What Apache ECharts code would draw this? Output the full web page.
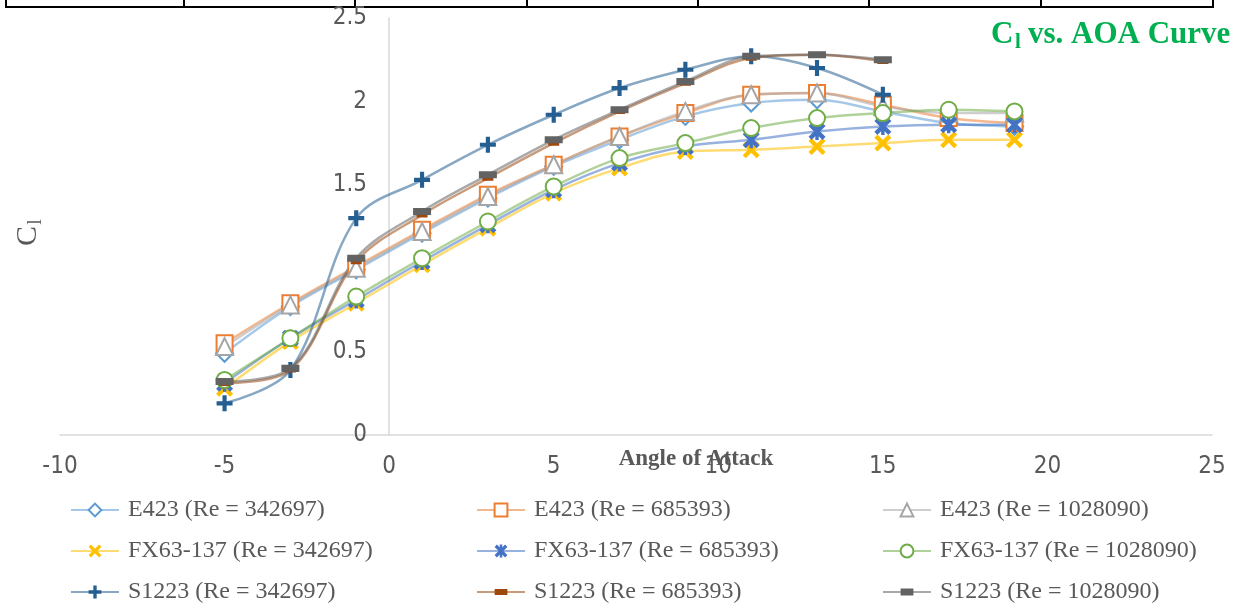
<!DOCTYPE html>
<html>
<head>
<meta charset="utf-8">
<script src="https://cdn.jsdelivr.net/npm/echarts@6/dist/echarts.min.js"></script>
<style>
  html, body { margin: 0; padding: 0; background: #fff; }
  #chart { width: 1239px; height: 604px; }
</style>
</head>
<body>
<div id="chart"></div>
<script>
// ---- data ----
const aoa = [-5, -3, -1, 1, 3, 5, 7, 9, 11, 13, 15, 17, 19];
const aoaS1223 = [-5, -3, -1, 1, 3, 5, 7, 9, 11, 13, 15];

const e423_342697  = [0.49, 0.77, 0.99, 1.21, 1.42, 1.61, 1.77, 1.91, 1.99, 2.01, 1.94, 1.87, 1.85];
const e423_685393  = [0.55, 0.79, 1.01, 1.23, 1.44, 1.62, 1.79, 1.93, 2.04, 2.05, 1.98, 1.90, 1.87];
const e423_1028090 = [0.53, 0.78, 1.00, 1.22, 1.43, 1.62, 1.79, 1.94, 2.04, 2.05, 1.97, 1.93, 1.93];
const fx_342697    = [0.28, 0.56, 0.79, 1.02, 1.24, 1.45, 1.60, 1.70, 1.71, 1.73, 1.75, 1.77, 1.77];
const fx_685393    = [0.31, 0.58, 0.81, 1.04, 1.26, 1.47, 1.63, 1.73, 1.77, 1.82, 1.85, 1.86, 1.86];
const fx_1028090   = [0.33, 0.58, 0.83, 1.06, 1.28, 1.49, 1.66, 1.75, 1.84, 1.90, 1.93, 1.95, 1.94];
const s1223_342697 = [0.19, 0.39, 1.30, 1.53, 1.74, 1.92, 2.08, 2.19, 2.27, 2.20, 2.04];
const s1223_685393 = [0.31, 0.39, 1.04, 1.32, 1.54, 1.75, 1.94, 2.11, 2.26, 2.28, 2.24];
const s1223_1028090= [0.32, 0.40, 1.06, 1.34, 1.56, 1.77, 1.95, 2.12, 2.27, 2.28, 2.25];

const seriesNames = [
  'E423 (Re = 342697)', 'E423 (Re = 685393)', 'E423 (Re = 1028090)',
  'FX63-137 (Re = 342697)', 'FX63-137 (Re = 685393)', 'FX63-137 (Re = 1028090)',
  'S1223 (Re = 342697)', 'S1223 (Re = 685393)', 'S1223 (Re = 1028090)'
];
const xTicks = { min: -10, max: 25, step: 5 };
const yTicks = { min: 0, max: 2.5, step: 0.5 };

// ---- styling ----
const colors = ['#5B9BD5', '#ED7D31', '#A5A5A5', '#FFC000', '#4472C4', '#70AD47', '#255E91', '#9E480E', '#636363'];
const SYM_PLUS = 'path://M3.7,0H6.3V3.7H10V6.3H6.3V10H3.7V6.3H0V3.7H3.7Z';
const SYM_X = 'path://M0,1.8L1.8,0L5,3.2L8.2,0L10,1.8L6.8,5L10,8.2L8.2,10L5,6.8L1.8,10L0,8.2L3.2,5Z';
const SYM_STAR = 'path://M0,1.8L1.8,0L5,3.2L8.2,0L10,1.8L6.8,5L10,8.2L8.2,10L5,6.8L1.8,10L0,8.2L3.2,5Z M4,0H6V10H4Z';
const SYM_DASH_L = 'path://M0,0h0.02v0.02h-0.02Z M0,3H18V10H0Z M0,12.98h0.02v0.02h-0.02Z';
const SYM_DASH_S = 'path://M0,0h0.02v0.02h-0.02Z M0,2.6H10V7.4H0Z M0,9.98h0.02v0.02h-0.02Z';

const symbols = ['emptyDiamond', 'emptyRect', 'emptyTriangle', SYM_X, SYM_STAR, 'emptyCircle', SYM_PLUS, SYM_DASH_S, SYM_DASH_L];
const symbolSizes = [17, 16, 17, 17, 17, 16, 16, [11, 11], [18, 13]];
const hollow = [true, true, true, false, false, true, false, false, false];

const xs = [aoa, aoa, aoa, aoa, aoa, aoa, aoaS1223, aoaS1223, aoaS1223];
const ys = [e423_342697, e423_685393, e423_1028090, fx_342697, fx_685393, fx_1028090, s1223_342697, s1223_685393, s1223_1028090];

const series = seriesNames.map((name, i) => ({
  name: name,
  type: 'line',
  smooth: 0.35,
  data: xs[i].map((x, k) => [x, ys[i][k]]),
  symbol: symbols[i],
  symbolSize: symbolSizes[i],
  showAllSymbol: true,
  color: colors[i],
  lineStyle: { color: colors[i], width: 2.5, opacity: 0.55 },
  itemStyle: hollow[i]
    ? { color: colors[i], borderColor: colors[i], borderWidth: 3 }
    : { color: colors[i], borderWidth: 0 },
  emphasis: { disabled: true },
  animation: false
}));

const labelFont = '"Liberation Sans Narrow", "DejaVu Sans Condensed", "Liberation Sans", sans-serif';
const serif = '"Liberation Serif", "Times New Roman", serif';

const legendCommon = {
  orient: 'vertical',
  top: 498,
  height: 140,
  padding: 0,
  itemWidth: 48,
  itemHeight: 16,
  itemGap: 17,
  textStyle: { fontFamily: serif, fontSize: 24, color: '#595959', lineHeight: 24, padding: [0, 0, 0, 4] },
  selectedMode: false
};

const option = {
  backgroundColor: '#ffffff',
  animation: false,
  grid: { left: 60, right: 27, top: 18, bottom: 169, containLabel: false },
  xAxis: {
    type: 'value', min: xTicks.min, max: xTicks.max, interval: xTicks.step,
    axisLine: { show: true, onZero: false, lineStyle: { color: '#D9D9D9', width: 1.5 } },
    axisTick: { show: false },
    splitLine: { show: false },
    axisLabel: { color: '#595959', fontFamily: labelFont, fontSize: 24, margin: 20 }
  },
  yAxis: {
    type: 'value', min: yTicks.min, max: yTicks.max, interval: yTicks.step,
    position: 'left',
    offset: -329,
    axisLine: { show: true, onZero: false, lineStyle: { color: '#D9D9D9', width: 1.5 } },
    axisTick: { show: false },
    splitLine: { show: false },
    axisLabel: { color: '#595959', fontFamily: labelFont, fontSize: 24, margin: 22 }
  },
  legend: [
    Object.assign({}, legendCommon, { left: 70, data: [seriesNames[0], seriesNames[3], seriesNames[6]] }),
    Object.assign({}, legendCommon, { left: 476, data: [seriesNames[1], seriesNames[4], seriesNames[7]] }),
    Object.assign({}, legendCommon, { left: 882, data: [seriesNames[2], seriesNames[5], seriesNames[8]] })
  ],
  graphic: [
    // top border remnant
    { type: 'line', shape: { x1: 5, y1: 7, x2: 1214, y2: 7 }, style: { stroke: '#000', lineWidth: 2 } },
    ...[6, 184, 355, 527, 698, 869, 1041, 1213].map(x => ({
      type: 'line', shape: { x1: x, y1: 0, x2: x, y2: 7 }, style: { stroke: '#000', lineWidth: 2 }
    })),
    // title
    { type: 'text', left: 991, top: 19, style: { text: 'C', fill: '#00B050', font: 'bold 31px ' + serif } },
    { type: 'text', left: 1015, top: 32, style: { text: 'l', fill: '#00B050', font: 'bold 21px ' + serif } },
    { type: 'text', left: 1028, top: 19, style: { text: 'vs. AOA Curve', fill: '#00B050', font: 'bold 31px ' + serif } },
    // y axis name
    {
      type: 'group', x: 28, y: 236, rotation: Math.PI / 2,
      children: [
        { type: 'text', x: 0, y: 0, style: { text: 'C', fill: '#595959', font: '30px ' + serif, align: 'center', verticalAlign: 'middle' } },
        { type: 'text', x: 14, y: 8, style: { text: 'l', fill: '#595959', font: '20px ' + serif, align: 'center', verticalAlign: 'middle' } }
      ]
    },
    // x axis name
    { type: 'text', x: 696, y: 459, style: { text: 'Angle of Attack', fill: '#595959', font: 'bold 23px ' + serif, align: 'center', verticalAlign: 'middle' } }
  ],
  series: series
};

const chart = echarts.init(document.getElementById('chart'), null, { renderer: 'canvas' });
chart.setOption(option);
</script>
</body>
</html>
